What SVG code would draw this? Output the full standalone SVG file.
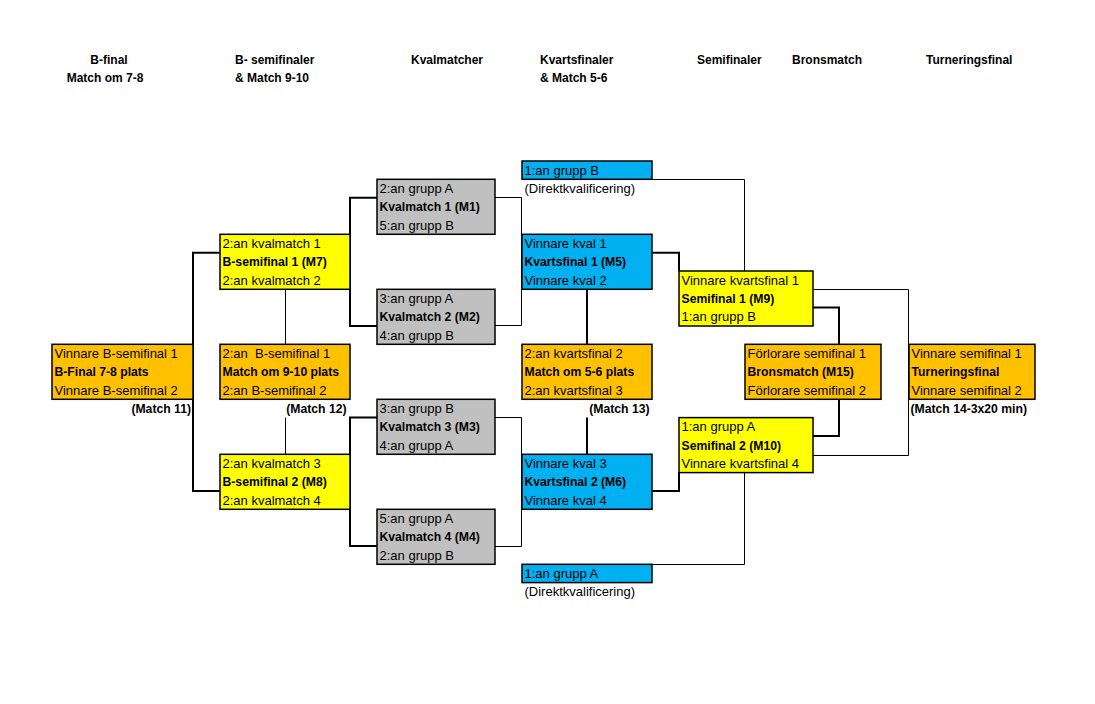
<svg xmlns="http://www.w3.org/2000/svg" width="1095" height="704" viewBox="0 0 1095 704">
<style>
text{font-family:"Liberation Sans",Arial,sans-serif;fill:#000}
.r{font-size:13px}
.b{font-size:12.2px;font-weight:bold}
.h{font-size:12px;font-weight:bold}
.box{stroke:#000;stroke-width:1.5}
.y{fill:#FFFF00}.g{fill:#C0C0C0}.bl{fill:#00B0F0}.o{fill:#FFC000}
.thin{fill:none;stroke:#000;stroke-width:1}
.thick{fill:none;stroke:#000;stroke-width:2}
</style>
<rect width="1095" height="704" fill="#fff"/>
<g id="headers">
<text class="h" x="109" y="63.5" text-anchor="middle">B-final</text>
<text class="h" x="105" y="82" text-anchor="middle">Match om 7-8</text>
<text class="h" x="235" y="63.5">B- semifinaler</text>
<text class="h" x="235" y="82">&amp; Match 9-10</text>
<text class="h" x="411" y="63.5">Kvalmatcher</text>
<text class="h" x="540" y="63.5">Kvartsfinaler</text>
<text class="h" x="540" y="82">&amp; Match 5-6</text>
<text class="h" x="697" y="63.5">Semifinaler</text>
<text class="h" x="792" y="63.5">Bronsmatch</text>
<text class="h" x="926" y="63.5">Turneringsfinal</text>
</g>
<g id="connectors">
<path class="thin" d="M652 179.5H744.5V271"/>
<path class="thin" d="M495 197.5H521.5V325.5H495"/>
<path class="thin" d="M285.5 289.3V344.3"/>
<path class="thin" d="M285.5 417.6V454.3"/>
<path class="thin" d="M495 417.5H521.5V546.5H495"/>
<path class="thin" d="M652 564.5H744.5V472.6"/>
<path class="thin" d="M813 289.5H908.5V455.5H813"/>
<path class="thick" d="M377 197.7H350V326H377"/>
<path class="thick" d="M220 252.7H193V491H220"/>
<path class="thick" d="M652 252.7H679V271"/>
<path class="thick" d="M587 289.3V344.3"/>
<path class="thick" d="M587 417.6V454.3"/>
<path class="thick" d="M377 417.6H350V546H377"/>
<path class="thick" d="M652 491H679V472.6"/>
<path class="thick" d="M813 307.6H839V344.3"/>
<path class="thick" d="M813 436H839V399.3"/>
</g>
<g id="grpB">
<rect class="box bl" x="522" y="161" width="130" height="18.3"/>
<text class="r" x="524.5" y="174.5">1:an grupp B</text>
<text class="r" x="524.5" y="192.8">(Direktkvalificering)</text>
</g>
<g id="M1">
<rect class="box g" x="377" y="179.3" width="118" height="55"/>
<text class="r" x="379.5" y="192.8">2:an grupp A</text>
<text class="b" x="379.5" y="211.2">Kvalmatch 1 (M1)</text>
<text class="r" x="379.5" y="229.5">5:an grupp B</text>
</g>
<g id="M7">
<rect class="box y" x="220" y="234.3" width="130" height="55"/>
<text class="r" x="222.5" y="247.8">2:an kvalmatch 1</text>
<text class="b" x="222.5" y="266.2">B-semifinal 1 (M7)</text>
<text class="r" x="222.5" y="284.5">2:an kvalmatch 2</text>
</g>
<g id="M5">
<rect class="box bl" x="522" y="234.3" width="130" height="55"/>
<text class="r" x="524.5" y="247.8">Vinnare kval 1</text>
<text class="b" x="524.5" y="266.2">Kvartsfinal 1 (M5)</text>
<text class="r" x="524.5" y="284.5">Vinnare kval 2</text>
</g>
<g id="M9">
<rect class="box y" x="679" y="271" width="134" height="55"/>
<text class="r" x="681.5" y="284.5">Vinnare kvartsfinal 1</text>
<text class="b" x="681.5" y="302.8">Semifinal 1 (M9)</text>
<text class="r" x="681.5" y="321.1">1:an grupp B</text>
</g>
<g id="M2">
<rect class="box g" x="377" y="289.3" width="118" height="55"/>
<text class="r" x="379.5" y="302.8">3:an grupp A</text>
<text class="b" x="379.5" y="321.1">Kvalmatch 2 (M2)</text>
<text class="r" x="379.5" y="339.5">4:an grupp B</text>
</g>
<g id="M11">
<rect class="box o" x="52" y="344.3" width="141" height="55"/>
<text class="r" x="54.5" y="357.8">Vinnare B-semifinal 1</text>
<text class="b" x="54.5" y="376.1">B-Final 7-8 plats</text>
<text class="r" x="54.5" y="394.5">Vinnare B-semifinal 2</text>
<text class="b" x="191" y="412.8" text-anchor="end">(Match 11)</text>
</g>
<g id="M12">
<rect class="box o" x="220" y="344.3" width="130" height="55"/>
<text class="r" x="222.5" y="357.8" xml:space="preserve">2:an  B-semifinal 1</text>
<text class="b" x="222.5" y="376.1">Match om 9-10 plats</text>
<text class="r" x="222.5" y="394.5">2:an B-semifinal 2</text>
<text class="b" x="346.5" y="412.8" text-anchor="end">(Match 12)</text>
</g>
<g id="M13">
<rect class="box o" x="522" y="344.3" width="130" height="55"/>
<text class="r" x="524.5" y="357.8">2:an kvartsfinal 2</text>
<text class="b" x="524.5" y="376.1">Match om 5-6 plats</text>
<text class="r" x="524.5" y="394.5">2:an kvartsfinal 3</text>
<text class="b" x="649.5" y="412.8" text-anchor="end">(Match 13)</text>
</g>
<g id="M15">
<rect class="box o" x="745" y="344.3" width="136" height="55"/>
<text class="r" x="747.5" y="357.8">Förlorare semifinal 1</text>
<text class="b" x="747.5" y="376.1">Bronsmatch (M15)</text>
<text class="r" x="747.5" y="394.5">Förlorare semifinal 2</text>
</g>
<g id="M14">
<rect class="box o" x="909" y="344.3" width="126" height="55"/>
<text class="r" x="911.5" y="357.8">Vinnare semifinal 1</text>
<text class="b" x="911.5" y="376.1">Turneringsfinal</text>
<text class="r" x="911.5" y="394.5">Vinnare semifinal 2</text>
<text class="b" x="910.5" y="412.8">(Match 14-3x20 min)</text>
</g>
<g id="M3">
<rect class="box g" x="377" y="399.3" width="118" height="55"/>
<text class="r" x="379.5" y="412.8">3:an grupp B</text>
<text class="b" x="379.5" y="431.1">Kvalmatch 3 (M3)</text>
<text class="r" x="379.5" y="449.5">4:an grupp A</text>
</g>
<g id="M10">
<rect class="box y" x="679" y="417.6" width="134" height="55"/>
<text class="r" x="681.5" y="431.1">1:an grupp A</text>
<text class="b" x="681.5" y="449.5">Semifinal 2 (M10)</text>
<text class="r" x="681.5" y="467.8">Vinnare kvartsfinal 4</text>
</g>
<g id="M8">
<rect class="box y" x="220" y="454.3" width="130" height="55"/>
<text class="r" x="222.5" y="467.8">2:an kvalmatch 3</text>
<text class="b" x="222.5" y="486.1">B-semifinal 2 (M8)</text>
<text class="r" x="222.5" y="504.5">2:an kvalmatch 4</text>
</g>
<g id="M6">
<rect class="box bl" x="522" y="454.3" width="130" height="55"/>
<text class="r" x="524.5" y="467.8">Vinnare kval 3</text>
<text class="b" x="524.5" y="486.1">Kvartsfinal 2 (M6)</text>
<text class="r" x="524.5" y="504.5">Vinnare kval 4</text>
</g>
<g id="M4">
<rect class="box g" x="377" y="509.3" width="118" height="55"/>
<text class="r" x="379.5" y="522.8">5:an grupp A</text>
<text class="b" x="379.5" y="541.1">Kvalmatch 4 (M4)</text>
<text class="r" x="379.5" y="559.5">2:an grupp B</text>
</g>
<g id="grpA">
<rect class="box bl" x="522" y="564.3" width="130" height="18.3"/>
<text class="r" x="524.5" y="577.8">1:an grupp A</text>
<text class="r" x="524.5" y="596.1">(Direktkvalificering)</text>
</g>
</svg>
